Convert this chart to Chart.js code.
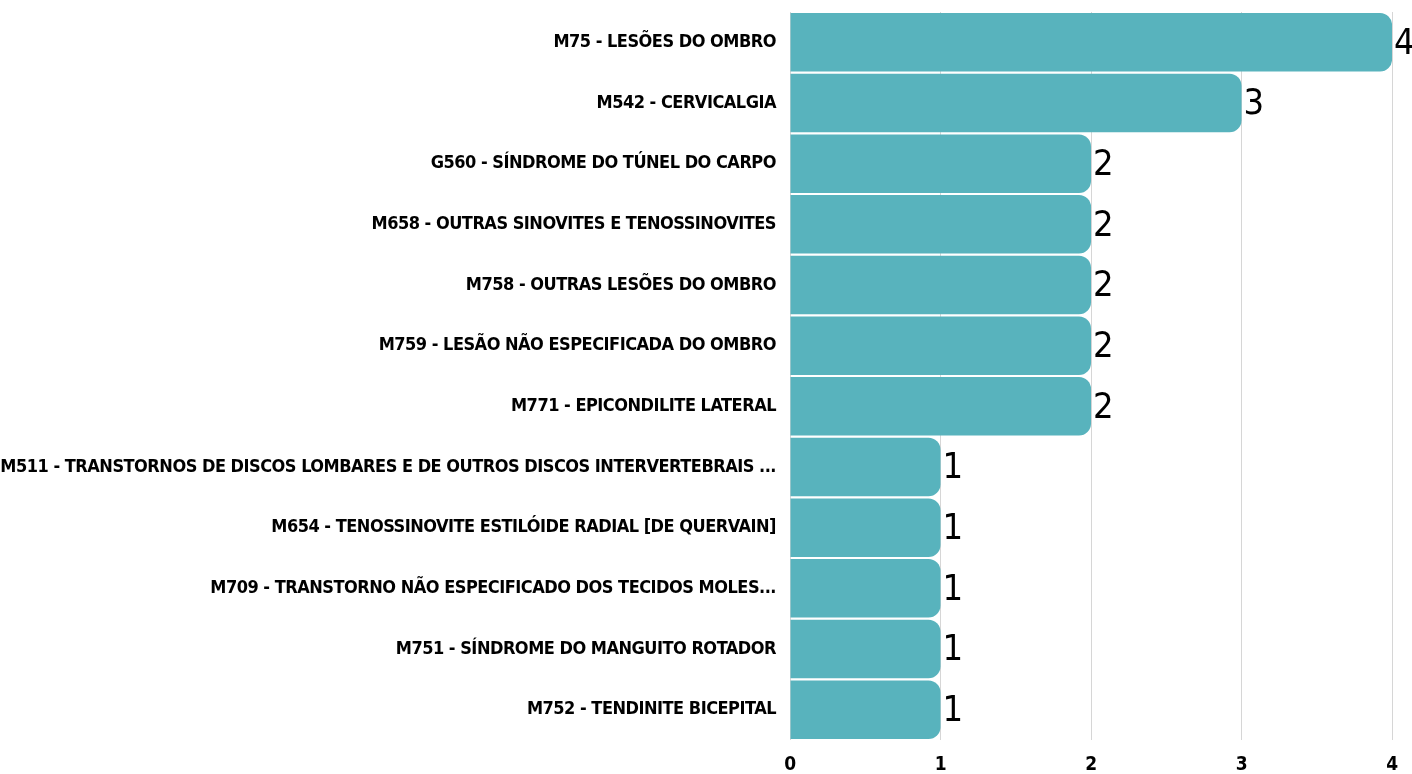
<!DOCTYPE html>
<html>
<head>
<meta charset="utf-8">
<script src="https://cdn.jsdelivr.net/npm/chart.js@4/dist/chart.umd.min.js"></script>
<style>
    html, body { margin: 0; padding: 0; background: #fff; }
    #wrap { width: 1412px; height: 774px; position: relative; }
</style>
</head>
<body>
<div id="wrap"><canvas id="cidChart"></canvas></div>
<script>
const categorias = [
    'M75 - LESÕES DO OMBRO',
    'M542 - CERVICALGIA',
    'G560 - SÍNDROME DO TÚNEL DO CARPO',
    'M658 - OUTRAS SINOVITES E TENOSSINOVITES',
    'M758 - OUTRAS LESÕES DO OMBRO',
    'M759 - LESÃO NÃO ESPECIFICADA DO OMBRO',
    'M771 - EPICONDILITE LATERAL',
    'M511 - TRANSTORNOS DE DISCOS LOMBARES E DE OUTROS DISCOS INTERVERTEBRAIS ...',
    'M654 - TENOSSINOVITE ESTILÓIDE RADIAL [DE QUERVAIN]',
    'M709 - TRANSTORNO NÃO ESPECIFICADO DOS TECIDOS MOLES...',
    'M751 - SÍNDROME DO MANGUITO ROTADOR',
    'M752 - TENDINITE BICEPITAL'
];
const quantidades = [4, 3, 2, 2, 2, 2, 2, 1, 1, 1, 1, 1];
const ticksX = [0, 1, 2, 3, 4];

const fonteLabel = "'Liberation Sans Narrow', 'DejaVu Sans Condensed', sans-serif";

// aperta o espaçamento das letras (fonte de referência é bem condensada)
const espacamentoPlugin = {
    id: 'espacamento',
    beforeDraw(chart) {
        chart.ctx.letterSpacing = '-0.5px';
    }
};

// escreve o valor no fim de cada barra
const valoresPlugin = {
    id: 'valores',
    afterDatasetsDraw(chart) {
        const ctx = chart.ctx;
        const meta = chart.getDatasetMeta(0);
        ctx.save();
        ctx.letterSpacing = '0px';
        ctx.font = "normal 36px " + fonteLabel;
        ctx.fillStyle = '#000';
        ctx.textAlign = 'left';
        ctx.textBaseline = 'middle';
        meta.data.forEach((bar, i) => {
            ctx.fillText(String(quantidades[i]), bar.x + 2, bar.y + 2);
        });
        ctx.restore();
    }
};

const ctx = document.getElementById('cidChart').getContext('2d');
new Chart(ctx, {
    type: 'bar',
    data: {
        labels: categorias,
        datasets: [{
            data: quantidades,
            backgroundColor: '#58b3bd',
            borderWidth: 0,
            borderRadius: { topRight: 12, bottomRight: 12, topLeft: 0, bottomLeft: 0 },
            borderSkipped: 'start',
            barPercentage: 0.965,
            categoryPercentage: 1
        }]
    },
    options: {
        indexAxis: 'y',
        responsive: true,
        maintainAspectRatio: false,
        animation: false,
        layout: { padding: { top: 12, right: 19, bottom: 0, left: 0 } },
        plugins: { legend: { display: false }, tooltip: { enabled: false } },
        scales: {
            x: {
                min: 0,
                max: 4,
                afterBuildTicks: (axis) => { axis.ticks = ticksX.map(v => ({ value: v })); },
                afterFit: (axis) => { axis.height = 34; },
                grid: { color: '#d6d6d6', drawTicks: false, lineWidth: 1 },
                border: { display: false },
                ticks: {
                    padding: 14,
                    color: '#000',
                    font: { family: fonteLabel, weight: 'bold', size: 19 }
                }
            },
            y: {
                afterFit: (axis) => {
                    axis.width = 790;
                    axis.paddingTop = 0;
                    axis.paddingBottom = 0;
                },
                grid: { display: false, drawTicks: false },
                border: { display: false },
                ticks: {
                    padding: 14,
                    color: '#000',
                    autoSkip: false,
                    font: { family: fonteLabel, weight: 'bold', size: 18 }
                }
            }
        }
    },
    plugins: [espacamentoPlugin, valoresPlugin]
});
</script>
</body>
</html>
